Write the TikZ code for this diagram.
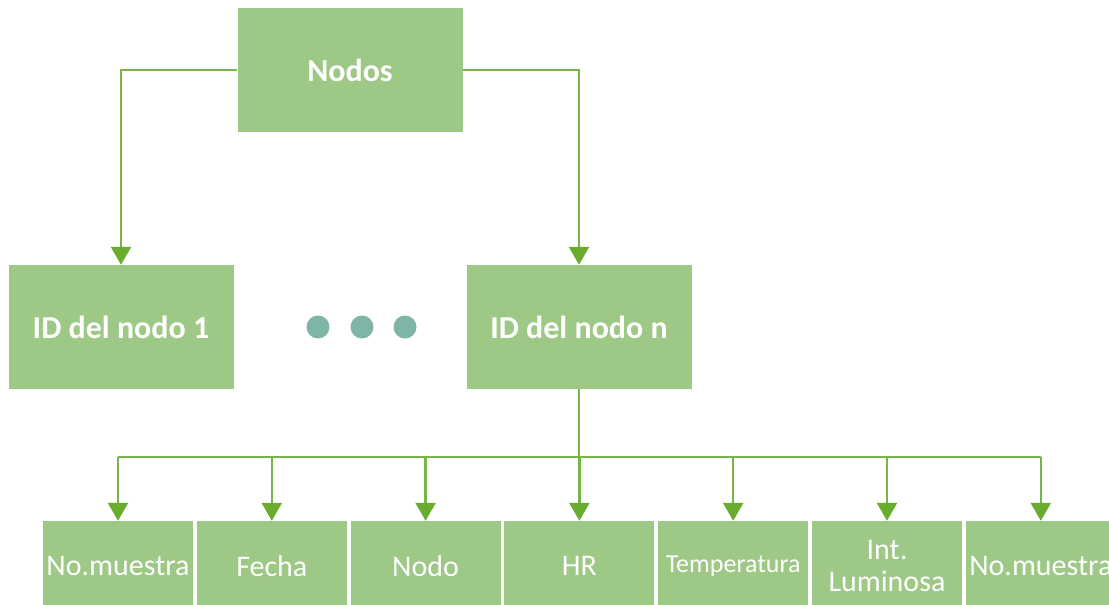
\documentclass[tikz,border=0pt]{standalone}
\usepackage{fontspec}
\setmainfont{Carlito}
\usepackage{xcolor}
\usetikzlibrary{arrows.meta}

\definecolor{boxgreen}{HTML}{9DC886}
\definecolor{linegreen}{HTML}{78B548}
\definecolor{tipgreen}{HTML}{69AC2E}
\definecolor{dotteal}{HTML}{7EB5A6}

\begin{document}
\begin{tikzpicture}[
                x=1pt,y=-1pt,
                bigbox/.style={rectangle,fill=boxgreen,minimum width=225pt,minimum height=124pt,inner sep=0pt,
                    text=white,font=\fontsize{32}{36}\selectfont\bfseries},
                field/.style={rectangle,fill=boxgreen,minimum width=150pt,minimum height=90pt,inner sep=0pt,
                    text=white,align=center,font=\fontsize{30}{32}\selectfont},
                connection/.style={-{Triangle[width=20pt,length=18pt,color=tipgreen]},line width=2.4pt,draw=linegreen},
                link/.style={line width=2.4pt,draw=linegreen},
                dot/.style={circle,fill=dotteal,minimum size=23pt,inner sep=0pt},
            ]

            \useasboundingbox (0,0) rectangle (1109,605);

            \node[bigbox] (nodos) at (350,70) {Nodos};
            \node[bigbox] (id1) at (121,327) {ID del nodo 1};
            \node[bigbox] (idn) at (579,327) {ID del nodo n};

            \foreach \i/\x in {1/318,2/362,3/405} {
                \node[dot] (dot\i) at (\x,327) {};
            }

            % fields of each sample
            \foreach \i/\txt in {1/No.muestra,2/Fecha,3/Nodo,4/HR,5/{\fontsize{26}{28}\selectfont Temperatura},6/{Int.\\Luminosa},7/No.muestra} {
                \node[field] (f\i) at ({118+153.8*(\i-1)},566) {\txt};
            }

            \draw[connection] (nodos.west) -| (id1.north);
            \draw[connection] (nodos.east) -| (idn.north);

            \coordinate (bus) at (579,457);
            \draw[link] (idn.south) -- (bus);
            \draw[link] (f1.north |- bus) -- (f7.north |- bus);
            \foreach \i in {1,...,7} {
                \draw[connection] (f\i.north |- bus) -- (f\i.north);
            }
        \end{tikzpicture}
\end{document}
